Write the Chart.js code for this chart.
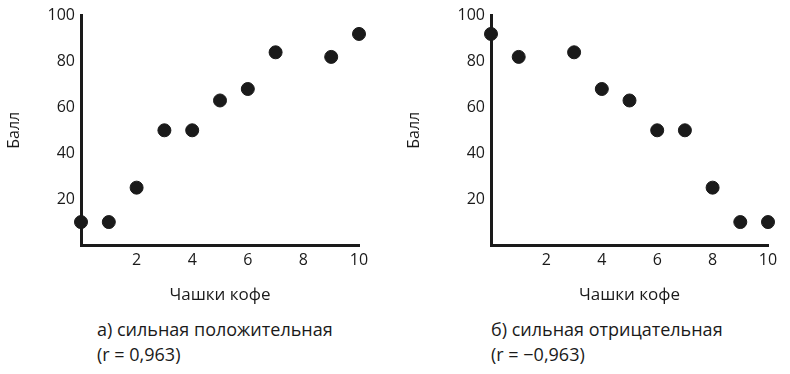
<!DOCTYPE html>
<html><head><meta charset="utf-8">
<script src="https://cdn.jsdelivr.net/npm/chart.js@4.4.1/dist/chart.umd.min.js"></script>
<style>
html,body{margin:0;padding:0;background:#fff;width:790px;height:374px;overflow:hidden;}
#w1{position:absolute;left:0;top:0;width:400px;height:305px;}
#w2{position:absolute;left:400px;top:0;width:390px;height:305px;}
.cap{position:absolute;font-family:"Open Sans",sans-serif;font-size:18px;line-height:25px;color:#1a1a1a;white-space:nowrap;}
</style></head>
<body>
<div id="w1"><canvas id="c1"></canvas></div>
<div id="w2"><canvas id="c2"></canvas></div>
<div class="cap" style="left:97px;top:317px">а) сильная положительная<br>(r = 0,963)</div>
<div class="cap" style="left:491px;top:317px">б) сильная отрицательная<br>(r = −0,963)</div>
<script>
const cupsA = [0, 1, 2, 3, 4, 5, 6, 7, 9, 10];
const scoreA = [10, 10, 25, 50, 50, 63, 68, 84, 82, 92];
const cupsB = [0, 1, 3, 4, 5, 6, 7, 8, 9, 10];
const scoreB = [92, 82, 84, 68, 63, 50, 50, 25, 10, 10];
const xTicks = [2, 4, 6, 8, 10];
const yTicks = [20, 40, 60, 80, 100];
const xTitle = "Чашки кофе";
const yTitle = "Балл";

const ink = '#1a1a1a';
const fontT = {family: '"Open Sans", sans-serif', size: 16};

function makeChart(id, xs, ys, yAxisWidth, padRight) {
  const pts = xs.map((x, i) => ({x: x, y: ys[i]}));
  return new Chart(document.getElementById(id), {
    type: 'scatter',
    data: {datasets: [{data: pts, backgroundColor: ink, borderColor: ink, pointRadius: 6.5, pointHoverRadius: 6.5, clip: false}]},
    options: {
      responsive: true, maintainAspectRatio: false, animation: false,
      layout: {padding: {top: 14, right: padRight, bottom: 0, left: 0}},
      plugins: {legend: {display: false}, tooltip: {enabled: false}},
      scales: {
        x: {
          type: 'linear', min: 0, max: 10,
          afterBuildTicks: s => { s.ticks = xTicks.map(v => ({value: v})); },
          afterFit: s => { s.height = 60; },
          grid: {display: false, drawTicks: false},
          border: {display: true, color: ink, width: 3},
          ticks: {color: ink, font: fontT, padding: 6, maxRotation: 0},
          title: {display: true, text: xTitle, color: ink, font: {family: '"Open Sans", sans-serif', size: 17}, padding: {top: 0, bottom: 0}}
        },
        y: {
          type: 'linear', min: 0, max: 100,
          afterBuildTicks: s => { s.ticks = yTicks.map(v => ({value: v})); },
          afterFit: s => { s.width = yAxisWidth; },
          grid: {display: false, drawTicks: false},
          border: {display: true, color: ink, width: 3},
          ticks: {color: ink, font: fontT, padding: 6},
          title: {display: true, text: yTitle, color: ink, font: {family: '"Open Sans", sans-serif', size: 16}, padding: {top: 5, bottom: 0}}
        }
      }
    }
  });
}
makeChart('c1', cupsA, scoreA, 81, 41);
makeChart('c2', cupsB, scoreB, 91, 22);
</script>
</body></html>
